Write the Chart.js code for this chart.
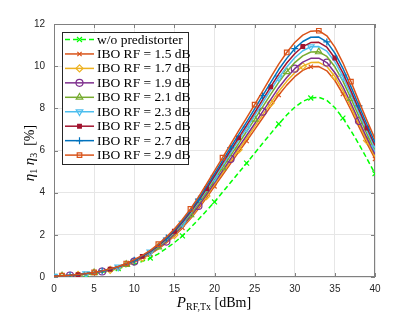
<!DOCTYPE html>
<html><head><meta charset="utf-8">
<script src="https://cdn.jsdelivr.net/npm/chart.js@4"></script>
<style>html,body{margin:0;padding:0;background:#fff;}#wrap{width:415px;height:312px;}</style>
</head><body><div id="wrap"><canvas id="c" width="415" height="312"></canvas></div>
<script>
const powerDbm = [0,1,2,3,4,5,6,7,8,9,10,11,12,13,14,15,16,17,18,19,20,21,22,23,24,25,26,27,28,29,30,31,32,33,34,35,36,37,38,39,40];
const xTicks = [0,5,10,15,20,25,30,35,40];
const yTicks = [0,2,4,6,8,10,12];
const seriesLabels = ['w/o predistorter','IBO RF = 1.5 dB','IBO RF = 1.7 dB','IBO RF = 1.9 dB','IBO RF = 2.1 dB','IBO RF = 2.3 dB','IBO RF = 2.5 dB','IBO RF = 2.7 dB','IBO RF = 2.9 dB'];
const etaNoPd = [0.03,0.05,0.07,0.09,0.12,0.16,0.22,0.30,0.40,0.50,0.60,0.74,0.90,1.10,1.35,1.63,1.95,2.33,2.73,3.14,3.56,4.02,4.48,4.94,5.40,5.87,6.34,6.80,7.26,7.68,8.05,8.33,8.49,8.52,8.38,8.03,7.54,6.94,6.30,5.61,4.90];
const etaIbo15 = [0.03,0.05,0.07,0.10,0.14,0.19,0.25,0.33,0.43,0.55,0.70,0.88,1.08,1.33,1.62,1.95,2.33,2.76,3.24,3.76,4.30,4.84,5.38,5.92,6.45,6.99,7.54,8.09,8.63,9.10,9.50,9.80,9.97,9.98,9.78,9.32,8.68,7.92,7.12,6.34,5.60];
const etaIbo17 = [0.03,0.05,0.07,0.10,0.14,0.19,0.26,0.34,0.44,0.56,0.71,0.90,1.10,1.36,1.65,1.99,2.38,2.82,3.30,3.84,4.39,4.94,5.49,6.04,6.58,7.13,7.69,8.25,8.80,9.28,9.69,10.00,10.17,10.18,9.98,9.51,8.85,8.08,7.26,6.47,5.71];
const etaIbo19 = [0.03,0.05,0.07,0.10,0.15,0.20,0.26,0.34,0.45,0.57,0.73,0.92,1.12,1.38,1.68,2.03,2.42,2.87,3.37,3.91,4.47,5.03,5.60,6.16,6.71,7.27,7.84,8.41,8.98,9.46,9.88,10.19,10.37,10.38,10.17,9.69,9.03,8.24,7.40,6.59,5.82];
const etaIbo21 = [0.03,0.05,0.07,0.11,0.15,0.20,0.27,0.35,0.46,0.59,0.75,0.94,1.16,1.42,1.73,2.09,2.49,2.95,3.47,4.02,4.60,5.18,5.76,6.33,6.90,7.48,8.07,8.66,9.23,9.74,10.17,10.49,10.67,10.68,10.46,9.97,9.29,8.47,7.62,6.78,5.99];
const etaIbo23 = [0.03,0.05,0.08,0.11,0.15,0.21,0.27,0.36,0.47,0.60,0.77,0.96,1.18,1.46,1.77,2.14,2.55,3.02,3.55,4.12,4.71,5.30,5.89,6.48,7.06,7.65,8.26,8.86,9.45,9.96,10.40,10.73,10.92,10.93,10.71,10.21,9.50,8.67,7.80,6.94,6.13];
const etaIbo25 = [0.03,0.06,0.08,0.11,0.16,0.21,0.28,0.37,0.48,0.61,0.78,0.98,1.20,1.48,1.81,2.17,2.60,3.08,3.61,4.19,4.79,5.40,6.00,6.60,7.19,7.79,8.41,9.02,9.62,10.15,10.59,10.93,11.12,11.13,10.90,10.39,9.68,8.83,7.94,7.07,6.24];
const etaIbo27 = [0.03,0.06,0.08,0.11,0.16,0.22,0.29,0.38,0.49,0.63,0.80,1.00,1.23,1.52,1.85,2.22,2.66,3.15,3.69,4.29,4.90,5.52,6.13,6.75,7.35,7.97,8.60,9.22,9.84,10.37,10.83,11.17,11.37,11.38,11.15,10.62,9.90,9.03,8.12,7.23,6.38];
const etaIbo29 = [0.04,0.06,0.08,0.12,0.16,0.22,0.29,0.39,0.50,0.64,0.82,1.03,1.26,1.56,1.90,2.28,2.73,3.23,3.79,4.40,5.03,5.66,6.29,6.93,7.55,8.18,8.82,9.47,10.10,10.65,11.12,11.47,11.66,11.68,11.44,10.90,10.16,9.27,8.33,7.42,6.55];

const seriesValues = [etaNoPd,etaIbo15,etaIbo17,etaIbo19,etaIbo21,etaIbo23,etaIbo25,etaIbo27,etaIbo29];
const styles = [
  {color:'#00ff00', ps:'crossRot', rot:0, fill:false, off:0, dash:[5,3], r:3.5},
  {color:'#D95319', ps:'crossRot', rot:0, fill:false, off:0, r:3},
  {color:'#EDB120', ps:'rectRot', rot:0, fill:false, off:3, r:3.5},
  {color:'#7E2F8E', ps:'circle', rot:0, fill:false, off:2, r:3.5},
  {color:'#77AC30', ps:'triangle', rot:0, fill:false, off:1, r:3.8},
  {color:'#4DBEEE', ps:'triangle', rot:180, fill:false, off:0, r:3.8},
  {color:'#A2142F', ps:'rect', rot:0, fill:true, off:3, r:2.6},
  {color:'#0072BD', ps:'cross', rot:0, fill:false, off:2, r:3.5},
  {color:'#D95319', ps:'rect', rot:0, fill:false, off:1, r:3.2}
];

const datasets = seriesValues.map((vals,i)=>{
  const s = styles[i];
  return {
    label: seriesLabels[i],
    data: powerDbm.map((x,k)=>({x:x,y:vals[k]})),
    borderColor: s.color,
    backgroundColor: s.fill ? s.color : 'rgba(0,0,0,0)',
    borderWidth: 1.5,
    borderDash: s.dash || [],
    pointStyle: s.ps,
    rotation: s.rot,
    pointBorderWidth: 1.2,
    pointBorderColor: s.color,
    pointBackgroundColor: s.fill ? s.color : 'rgba(0,0,0,0)',
    pointRadius: (c)=> ((c.dataIndex - s.off) % 4 === 0 && c.dataIndex >= s.off) ? s.r : 0,
    pointHoverRadius: 0,
    tension: 0,
    order: 9 - i
  };
});

const axisPlugin = {
  id:'matlabAxes',
  beforeDatasetsDraw(chart){
    const {ctx, chartArea:a, scales} = chart;
    ctx.save();
    ctx.strokeStyle = '#808080';
    ctx.lineWidth = 1;
    ctx.strokeRect(a.left+0.5, a.top+0.5, a.right-a.left-1, a.bottom-a.top-1);
    ctx.beginPath();
    xTicks.forEach(v=>{
      const px = Math.round(scales.x.getPixelForValue(v))+0.5;
      ctx.moveTo(px,a.bottom); ctx.lineTo(px,a.bottom-4);
      ctx.moveTo(px,a.top); ctx.lineTo(px,a.top+4);
    });
    yTicks.forEach(v=>{
      const py = Math.round(scales.y.getPixelForValue(v))+0.5;
      ctx.moveTo(a.left,py); ctx.lineTo(a.left+4,py);
      ctx.moveTo(a.right,py); ctx.lineTo(a.right-4,py);
    });
    ctx.stroke();
    ctx.restore();
  },
  afterDatasetsDraw(chart){
    const ctx = chart.ctx;
    ctx.save();
    const bx=62.5, by=32.5, bw=126, bh=132;
    ctx.fillStyle='#fff';
    ctx.fillRect(bx,by,bw,bh);
    ctx.strokeStyle='#262626';
    ctx.lineWidth=1;
    ctx.strokeRect(bx,by,bw,bh);
    seriesLabels.forEach((lab,i)=>{
      const s = styles[i];
      const y = 39.5 + i*14.45;
      ctx.strokeStyle = s.color;
      ctx.lineWidth = 1.5;
      ctx.setLineDash(s.dash || []);
      ctx.beginPath(); ctx.moveTo(65,y); ctx.lineTo(94,y); ctx.stroke();
      ctx.setLineDash([]);
      ctx.lineWidth = 1.2;
      ctx.fillStyle = s.fill ? s.color : 'rgba(0,0,0,0)';
      Chart.helpers.drawPoint(ctx,{pointStyle:s.ps, rotation:s.rot, radius:s.r, borderWidth:1.2}, 79.5, y);
      ctx.fillStyle='#000';
      ctx.font='13.5px "Liberation Serif"';
      ctx.textBaseline='middle';
      ctx.textAlign='left';
      ctx.fillText(lab, 97, y+0.5);
    });
    ctx.restore();
  },
  afterDraw(chart){
    const ctx = chart.ctx;
    ctx.save();
    ctx.fillStyle='#000';
    ctx.textBaseline='alphabetic';
    const xp = [
      {t:'P', f:'italic 15px "Liberation Serif"', dy:0},
      {t:'RF,Tx', f:'10px "Liberation Serif"', dy:3},
      {t:' [dBm]', f:'14px "Liberation Serif"', dy:0}
    ];
    let w=0; xp.forEach(p=>{ctx.font=p.f; p.w=ctx.measureText(p.t).width; w+=p.w;});
    let x=214-w/2;
    xp.forEach(p=>{ctx.font=p.f; ctx.fillText(p.t,x,307+p.dy); x+=p.w;});
    ctx.translate(34,153);
    ctx.rotate(-Math.PI/2);
    const yp = [
      {t:'η', f:'italic 15px "Liberation Serif"', dy:0},
      {t:'1', f:'10px "Liberation Serif"', dy:3},
      {t:' ', f:'14px "Liberation Serif"', dy:0},
      {t:'η', f:'italic 15px "Liberation Serif"', dy:0},
      {t:'3', f:'10px "Liberation Serif"', dy:3},
      {t:'  [%]', f:'14px "Liberation Serif"', dy:0}
    ];
    w=0; yp.forEach(p=>{ctx.font=p.f; p.w=ctx.measureText(p.t).width; w+=p.w;});
    x=-w/2;
    yp.forEach(p=>{ctx.font=p.f; ctx.fillText(p.t,x,p.dy); x+=p.w;});
    ctx.restore();
  }
};

new Chart(document.getElementById('c'), {
  type:'line',
  data:{datasets},
  options:{
    responsive:false,
    animation:false,
    devicePixelRatio:1,
    layout:{padding:{left:0,top:24,right:40,bottom:0}},
    plugins:{legend:{display:false}, tooltip:{enabled:false}},
    elements:{line:{borderJoinStyle:'round'}},
    scales:{
      x:{
        type:'linear', min:0, max:40,
        afterBuildTicks:(s)=>{s.ticks = xTicks.map(v=>({value:v}));},
        afterFit:(s)=>{s.height = 35;},
        ticks:{font:{family:'"Liberation Sans"', size:10}, color:'#262626', padding:6, maxRotation:0, autoSkip:false},
        grid:{color:'#e6e6e6', drawTicks:false},
        border:{display:false}
      },
      y:{
        type:'linear', min:0, max:12,
        afterBuildTicks:(s)=>{s.ticks = yTicks.map(v=>({value:v}));},
        afterFit:(s)=>{s.width = 54;},
        ticks:{font:{family:'"Liberation Sans"', size:10}, color:'#262626', padding:9, autoSkip:false},
        grid:{color:'#e6e6e6', drawTicks:false},
        border:{display:false}
      }
    }
  },
  plugins:[axisPlugin]
});
</script></body></html>
